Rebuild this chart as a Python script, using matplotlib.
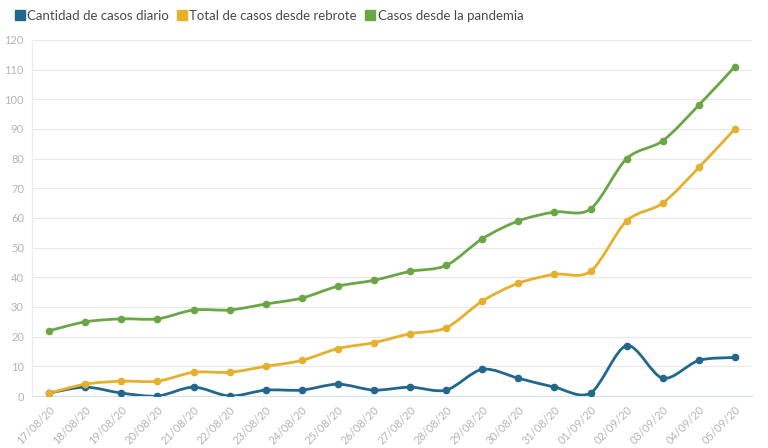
import matplotlib
matplotlib.use("Agg")
import matplotlib.pyplot as plt
from matplotlib.path import Path
from matplotlib.patches import PathPatch, FancyBboxPatch
from matplotlib.lines import Line2D
import numpy as np

fechas = ["17/08/20", "18/08/20", "19/08/20", "20/08/20", "21/08/20", "22/08/20",
          "23/08/20", "24/08/20", "25/08/20", "26/08/20", "27/08/20", "28/08/20",
          "29/08/20", "30/08/20", "31/08/20", "01/09/20", "02/09/20", "03/09/20",
          "04/09/20", "05/09/20"]
diario = [1, 3, 1, 0, 3, 0, 2, 2, 4, 2, 3, 2, 9, 6, 3, 1, 17, 6, 12, 13]
rebrote = [1, 4, 5, 5, 8, 8, 10, 12, 16, 18, 21, 23, 32, 38, 41, 42, 59, 65, 77, 90]
pandemia = [22, 25, 26, 26, 29, 29, 31, 33, 37, 39, 42, 44, 53, 59, 62, 63, 80, 86, 98, 111]

series = [
    ("Cantidad de casos diario", diario, "#22678c"),
    ("Total de casos desde rebrote", rebrote, "#e5b02b"),
    ("Casos desde la pandemia", pandemia, "#6ba646"),
]

plt.rcParams['font.family'] = ['Lato', 'DejaVu Sans']


def spline_path(x, y, t=0.3):
    # smooth curve through the points (cardinal spline as bezier segments)
    x = np.asarray(x, float)
    y = np.asarray(y, float)
    n = len(x)
    verts = [(x[0], y[0])]
    codes = [Path.MOVETO]
    for i in range(n - 1):
        i0 = max(i - 1, 0)
        i3 = min(i + 2, n - 1)
        c1 = (x[i] + t * (x[i + 1] - x[i0]) / 2 * 1.0,
              y[i] + t * (y[i + 1] - y[i0]) / 2 * 1.0)
        c2 = (x[i + 1] - t * (x[i3] - x[i]) / 2 * 1.0,
              y[i + 1] - t * (y[i3] - y[i]) / 2 * 1.0)
        verts += [c1, c2, (x[i + 1], y[i + 1])]
        codes += [Path.CURVE4, Path.CURVE4, Path.CURVE4]
    return Path(verts, codes)


fig = plt.figure(figsize=(7.68, 4.48), dpi=100)
ax = fig.add_axes([0.042, 0.116, 0.937, 0.795])

xs = np.arange(len(fechas))
for name, vals, col in series:
    ax.add_patch(PathPatch(spline_path(xs, vals), fill=False, edgecolor=col,
                           lw=2.0, capstyle='round', joinstyle='round', zorder=3))
    ax.plot(xs, vals, 'o', color=col, ms=4.5, zorder=4)

ax.set_xlim(-0.47, len(fechas) - 0.53)
ax.set_ylim(0, 120)
ax.set_yticks(range(0, 121, 10))
ax.set_xticks(xs)
ax.set_xticklabels(fechas, rotation=45, ha='right', rotation_mode='anchor')
ax.tick_params(axis='both', length=0, labelsize=8, colors='#b4b4b4', pad=6)
ax.grid(axis='y', color='#e8e8e8', lw=0.8)
ax.set_axisbelow(True)
for s in ['top', 'right']:
    ax.spines[s].set_visible(False)
ax.spines['left'].set_color('#ececec')
ax.spines['bottom'].set_color('#d6e2ea')

handles = [Line2D([], [], marker='s', ls='', color=c, ms=7.5) for _, _, c in series]
fig.legend(handles, [n for n, _, _ in series], loc='upper left',
           bbox_to_anchor=(0.002, 1.005), ncol=3, frameon=False, fontsize=9.5,
           handletextpad=0.05, columnspacing=0.5, handlelength=1.0,
           labelcolor='#4a4a4a')

fig.savefig("out.png", dpi=100, facecolor='white')
